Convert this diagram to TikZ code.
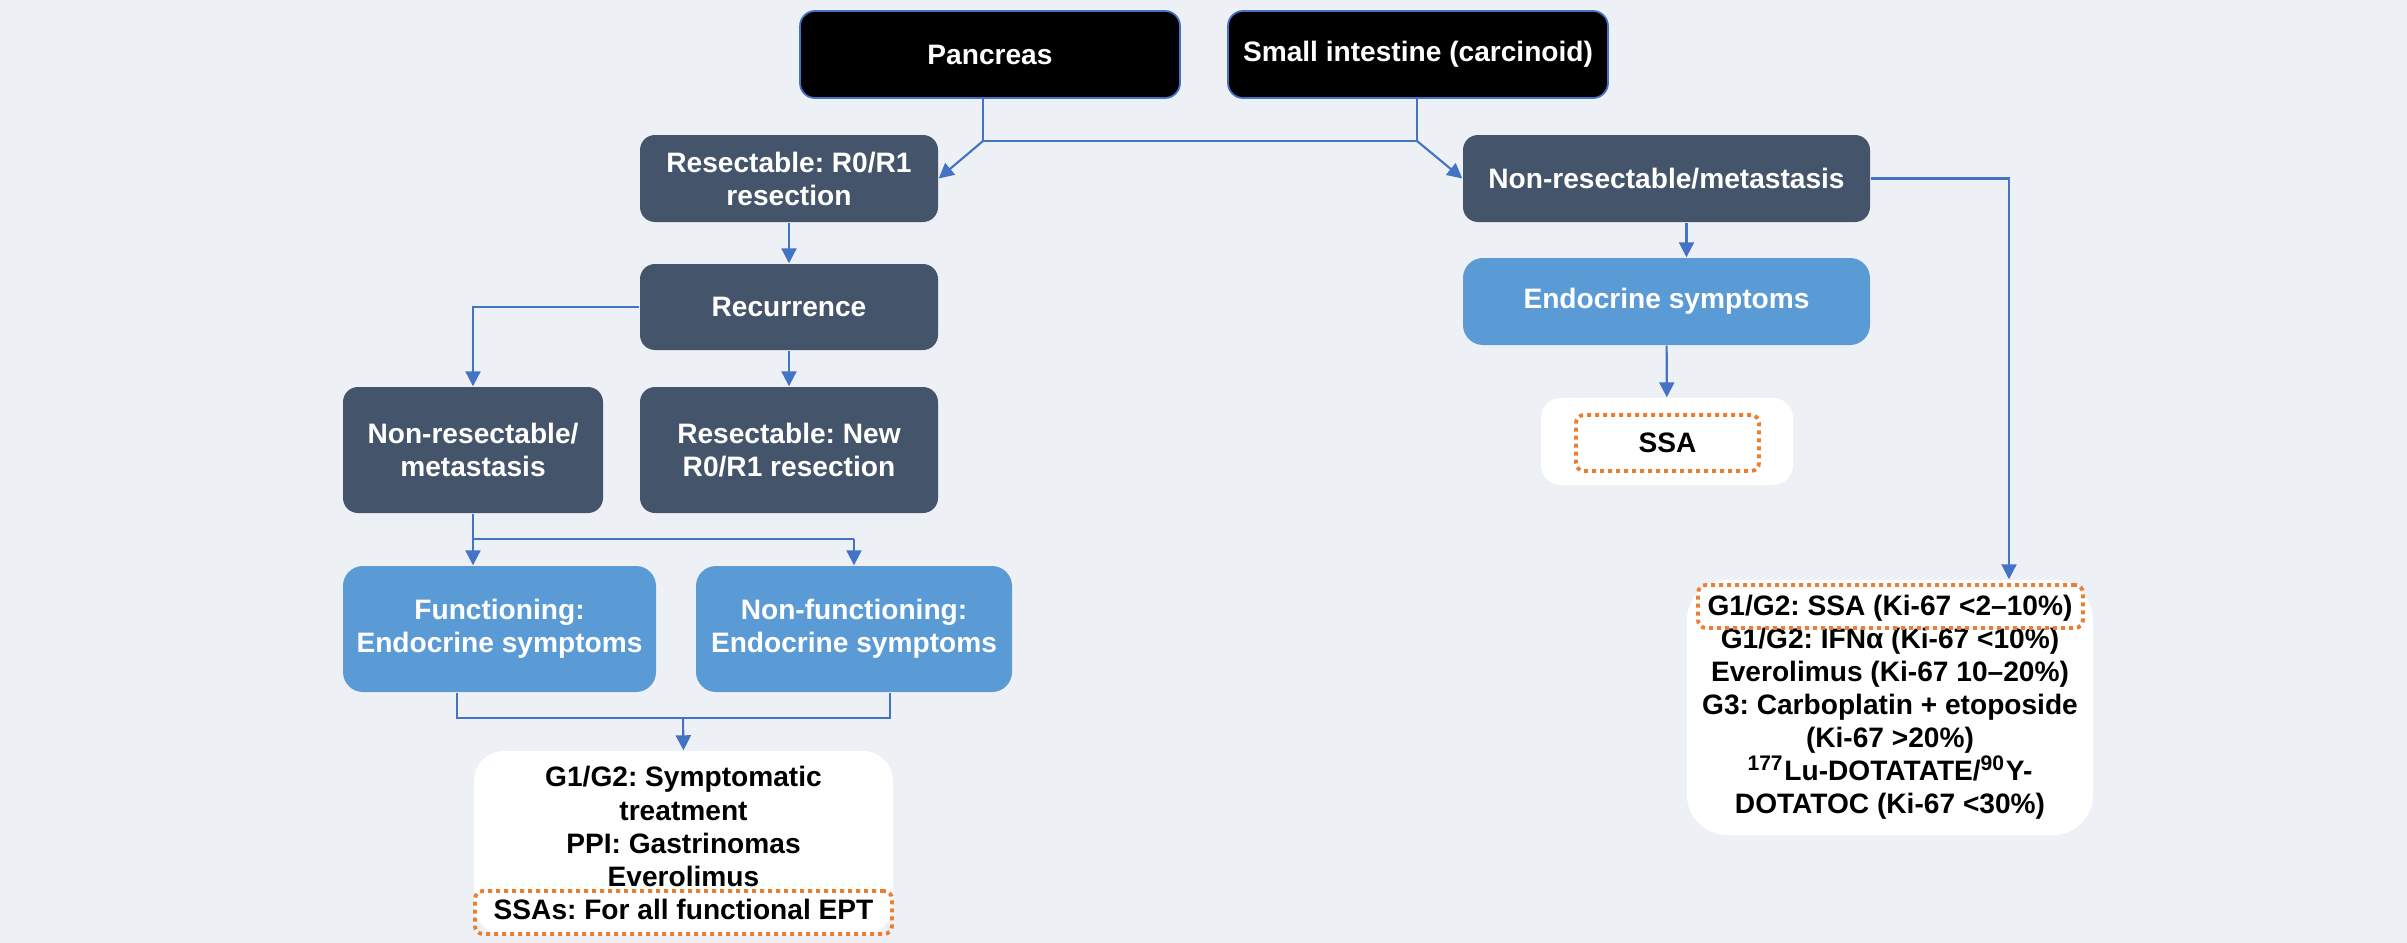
\documentclass[tikz,border=0pt]{standalone}
\usepackage{fontspec}
\setmainfont{Liberation Sans}
\usetikzlibrary{arrows.meta}
\frenchspacing

\definecolor{bgcol}{HTML}{EDF1F5}
\definecolor{slate}{HTML}{44546A}
\definecolor{skyblue}{HTML}{5B9BD5}
\definecolor{linkblue}{HTML}{4472C4}
\definecolor{accent}{HTML}{ED7D31}

\tikzset{
  box/.style={inner sep=0pt, align=center, font=\fontsize{8}{9.4}\selectfont\bfseries},
  topbox/.style={box, fill=black, draw=linkblue, line width=0.5pt, text=white,
    rounded corners=1.5mm, minimum width=38mm, minimum height=8.7mm},
  darkbox/.style={box, fill=slate, text=white, rounded corners=1.5mm},
  bluebox/.style={box, fill=skyblue, text=white, rounded corners=2mm},
  whitebox/.style={box, fill=white, text=black, rounded corners=3mm},
  dotbox/.style={box, draw=accent, line width=1.1pt, dash pattern=on 0.4mm off 0.4mm,
    rounded corners=0.8mm},
  link/.style={draw=linkblue, line width=0.6pt,
    -{Triangle[length=1.5mm,width=1.5mm]}},
}

\begin{document}
\begin{tikzpicture}[x=0.1mm,y=-0.1mm]
  \fill[bgcol] (0,0) rectangle (2407,943);
  \draw
    (990,54.5) node[topbox] (panc){Pancreas}
    (1418,54.5) node[topbox] (small){Small intestine (carcinoid)}
    (789,178.5) node[darkbox, minimum width=29.8mm, minimum height=8.7mm] (resec){Resectable: R0/R1\\resection}
    (1666.5,178.5) node[darkbox, minimum width=40.7mm, minimum height=8.7mm] (nrmet){Non-resectable/metastasis}
    (789,307) node[darkbox, minimum width=29.8mm, minimum height=8.6mm] (recur){Recurrence}
    (473,450) node[darkbox, minimum width=26mm, minimum height=12.6mm] (nrloc){Non-resectable/\\metastasis}
    (789,450) node[darkbox, minimum width=29.8mm, minimum height=12.6mm] (resnew){Resectable: New\\R0/R1 resection}
    (499.5,629) node[bluebox, minimum width=31.3mm, minimum height=12.6mm] (func){Functioning:\\Endocrine symptoms}
    (854,629) node[bluebox, minimum width=31.6mm, minimum height=12.6mm] (nonf){Non-functioning:\\Endocrine symptoms}
    (683.5,843) node[whitebox, minimum width=41.9mm, minimum height=18.4mm] (treat){G1/G2: Symptomatic\\treatment\\PPI: Gastrinomas\\Everolimus\\SSAs: For all functional EPT}
    (683.5,912.5) node[dotbox, minimum width=41.7mm, minimum height=4.3mm] (ssas){}
    (1666.5,301.5) node[bluebox, minimum width=40.7mm, minimum height=8.7mm] (endo){Endocrine symptoms}
    (1667,441.5) node[whitebox, rounded corners=2mm, minimum width=25.2mm, minimum height=8.7mm] (ssabg){}
    (1667.5,443) node[dotbox, minimum width=18.3mm, minimum height=5.6mm] (ssa){SSA}
    (1890,707.5) node[whitebox, rounded corners=4mm, minimum width=40.6mm, minimum height=25.5mm] (therapy){G1/G2: SSA (Ki-67 <2–10\%)\\G1/G2: IFNα (Ki-67 <10\%)\\Everolimus (Ki-67 10–20\%)\\G3: Carboplatin + etoposide\\(Ki-67 >20\%)\\\textsuperscript{177}Lu-DOTATATE/\textsuperscript{90}Y-\\DOTATOC (Ki-67 <30\%)}
    (1890.5,606.5) node[dotbox, minimum width=38.5mm, minimum height=4.3mm] (g1box){};
  \coordinate (jl) at (983,141);
  \coordinate (jr) at (1417,141);
  \coordinate (jf) at (473,539);
  \coordinate (fb) at (457,718);
  \coordinate (nb) at (890,718);
  \coordinate (jb) at (683,718);
  \coordinate (rc) at (2009,178.5);
  \begin{scope}[link]
    \draw[-] (panc.south -| jl) -- (jl) -- (jr) -- (small.south -| jr);
    \draw (jl) to (resec.east);
    \draw (jr) to (nrmet.west);
    \draw (resec) to (recur);
    \draw (recur.west) -| (nrloc.north);
    \draw (recur) to (resnew);
    \draw[-] (nrloc.south) -- (jf) -- (jf -| nonf.north);
    \draw (jf) to (func.north -| jf);
    \draw (jf -| nonf.north) to (nonf.north);
    \draw[-] (func.south -| fb) -- (fb) -- (nb) -- (nonf.south -| nb);
    \draw (jb) to (treat.north);
    \draw ([xshift=2mm]nrmet.south) to ([xshift=2mm]endo.north);
    \draw (endo) to (ssabg);
    \draw (nrmet.east) -- (rc) -- (therapy.north -| rc);
  \end{scope}
\end{tikzpicture}
\end{document}
